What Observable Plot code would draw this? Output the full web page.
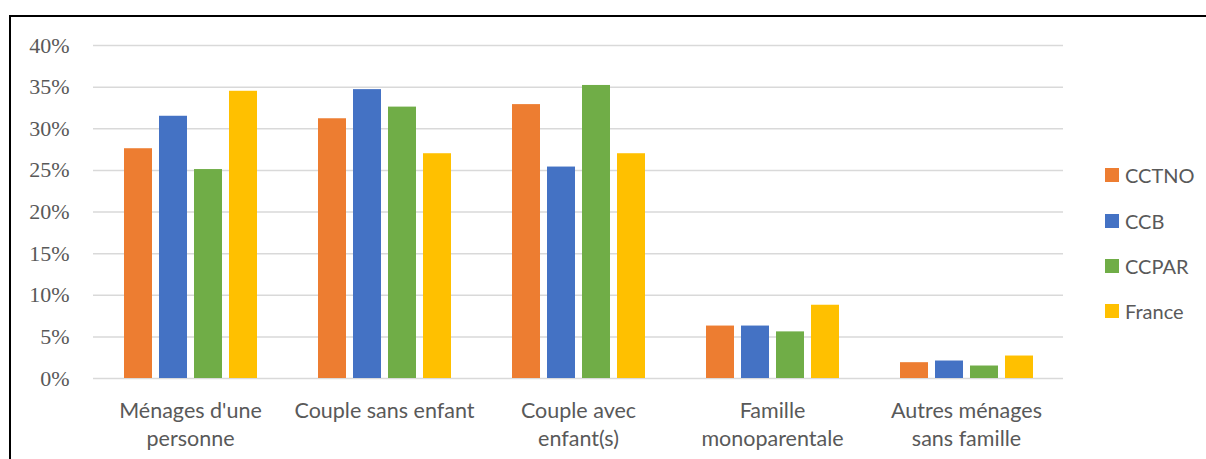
<!DOCTYPE html>
<html><head><meta charset="utf-8">
<script src="https://cdn.jsdelivr.net/npm/d3@7"></script>
<script src="https://cdn.jsdelivr.net/npm/@observablehq/plot@0.6"></script>
<style>
html,body{margin:0;padding:0;background:#fff;overflow:hidden;width:1206px;height:459px;}
#wrap{position:relative;width:1206px;height:459px;}
#frame{position:absolute;left:9px;top:15px;width:1400px;height:600px;border:2px solid #000;box-sizing:border-box;}
#chart{position:absolute;left:0;top:0;}
#legend{position:absolute;left:1105px;top:0;font-family:Lato,"Open Sans",sans-serif;font-size:20px;color:#595959;}
.item{position:absolute;left:0;white-space:nowrap;display:flex;align-items:center;}
.sw{width:14px;height:14px;margin-right:6px;}
</style></head>
<body><div id="wrap"><div id="frame"></div><div id="chart"></div><div id="legend"></div></div>
<script>
const categories = ["Ménages d'une\npersonne", "Couple sans enfant", "Couple avec\nenfant(s)", "Famille\nmonoparentale", "Autres ménages\nsans famille"];
const seriesNames = ["CCTNO", "CCB", "CCPAR", "France"];
const colors = ["#ED7D31", "#4472C4", "#70AD47", "#FFC000"];
const CCTNO = [27.6, 31.2, 32.9, 6.3, 1.9];
const CCB = [31.5, 34.7, 25.4, 6.3, 2.1];
const CCPAR = [25.1, 32.6, 35.2, 5.6, 1.5];
const France = [34.5, 27.0, 27.0, 8.8, 2.7];
const yTicks = [0, 5, 10, 15, 20, 25, 30, 35, 40];

const seriesValues = [CCTNO, CCB, CCPAR, France];
const data = [];
categories.forEach((c, i) => seriesNames.forEach((s, j) => data.push({cat: c, series: s, value: seriesValues[j][i]})));

const plot = Plot.plot({
  width: 1206, height: 459,
  marginLeft: 92, marginRight: 143, marginTop: 45, marginBottom: 81,
  style: {background: "transparent", overflow: "visible"},
  fx: {domain: categories, padding: 0, label: null, axis: null},
  x: {domain: seriesNames, padding: 0.2, paddingOuter: 0.85, axis: null},
  y: {domain: [0, 40], label: null, axis: null},
  color: {domain: seriesNames, range: colors},
  marks: [
    Plot.gridY(yTicks, {stroke: "#D9D9D9", strokeOpacity: 1, strokeWidth: 1.5}),
    Plot.text(yTicks, {fx: () => categories[0], y: d => d, frameAnchor: "left", dx: -24, textAnchor: "end", text: d => d + "%", fontFamily: "Liberation Serif", fontSize: 22, fill: "#595959"}),
    Plot.text(categories, {fx: d => d, frameAnchor: "bottom", lineAnchor: "top", dy: 19, text: d => d, fontFamily: "Lato", fontSize: 21.5, lineHeight: 1.33, fill: "#595959"}),
    Plot.barY(data, {fx: "cat", x: "series", y: "value", fill: "series"})
  ]
});
document.getElementById("chart").appendChild(plot);

const legend = document.getElementById("legend");
const legendTops = [175, 220.5, 265.5, 310.5];
seriesNames.forEach((s, i) => {
  const it = document.createElement("div");
  it.className = "item";
  it.style.top = (legendTops[i] - 12) + "px";
  it.style.height = "24px";
  const sw = document.createElement("span");
  sw.className = "sw"; sw.style.background = colors[i];
  const t = document.createElement("span"); t.textContent = s;
  it.appendChild(sw); it.appendChild(t);
  legend.appendChild(it);
});
</script></body></html>
